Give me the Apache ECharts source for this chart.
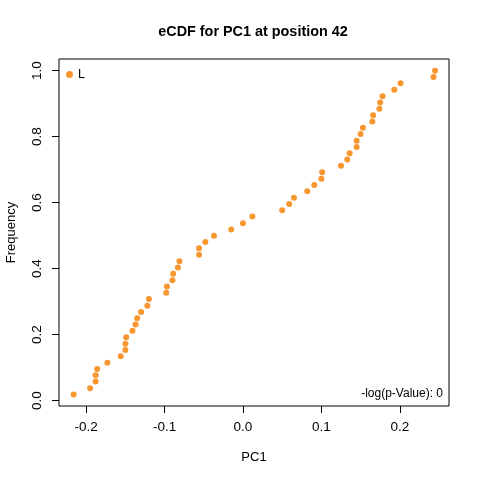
<!DOCTYPE html>
<html>
<head>
<meta charset="utf-8">
<script src="https://cdn.jsdelivr.net/npm/echarts@6/dist/echarts.min.js"></script>
<style>
  html, body { margin: 0; padding: 0; background: #fff; }
  #chart { width: 480px; height: 480px; }
</style>
</head>
<body>
<div id="chart"></div>
<script>
// PC1 values, sorted
var pc1 = [
  -0.216, -0.195, -0.188, -0.188, -0.186, -0.173, -0.156, -0.150, -0.150, -0.149,
  -0.141, -0.137, -0.135, -0.130, -0.122, -0.120, -0.098, -0.097, -0.090, -0.089,
  -0.083, -0.081, -0.056, -0.056, -0.048, -0.037, -0.015, 0.000, 0.012, 0.050,
  0.059, 0.065, 0.082, 0.091, 0.100, 0.101, 0.125, 0.133, 0.136, 0.145,
  0.145, 0.150, 0.153, 0.165, 0.166, 0.174, 0.175, 0.178, 0.193, 0.201,
  0.243, 0.245
];
var freq = [
  0.019, 0.038, 0.058, 0.077, 0.096, 0.115, 0.135, 0.154, 0.173, 0.192,
  0.212, 0.231, 0.250, 0.269, 0.288, 0.308, 0.327, 0.346, 0.365, 0.385,
  0.404, 0.423, 0.442, 0.462, 0.481, 0.500, 0.519, 0.538, 0.558, 0.577,
  0.596, 0.615, 0.635, 0.654, 0.673, 0.692, 0.712, 0.731, 0.750, 0.769,
  0.788, 0.808, 0.827, 0.846, 0.865, 0.885, 0.904, 0.923, 0.942, 0.962,
  0.981, 1.000
];
var xTicks = [-0.2, -0.1, 0.0, 0.1, 0.2];
var yTicks = [0.0, 0.2, 0.4, 0.6, 0.8, 1.0];

var chart = echarts.init(document.getElementById('chart'));
var font = 'Liberation Sans, Arial, sans-serif';

chart.setOption({
  backgroundColor: '#ffffff',
  animation: false,
  textStyle: { fontFamily: font },
  title: [{
    text: 'eCDF for PC1 at position 42',
    left: 248,
    top: 20,
    textAlign: 'center',
    textStyle: { fontSize: 14.4, fontWeight: 'bold', color: '#000', fontFamily: font }
  }, {
    text: '-log(p-Value): 0',
    right: 32,
    top: 383,
    textStyle: { fontSize: 12, fontWeight: 'normal', color: '#000', fontFamily: font }
  }],
  legend: {
    data: ['L'],
    left: 61,
    top: 63,
    icon: 'circle',
    itemWidth: 7,
    itemHeight: 7,
    textStyle: { fontSize: 12.5, color: '#000', fontFamily: font }
  },
  grid: {
    left: 59, right: 31, top: 59, bottom: 74,
    outerBoundsMode: 'none',
    containLabel: false,
    show: true,
    borderColor: '#000',
    borderWidth: 1,
    backgroundColor: 'transparent'
  },
  xAxis: {
    type: 'value',
    min: -0.2347,
    max: 0.2628,
    name: 'PC1',
    nameLocation: 'middle',
    nameGap: 45,
    nameTextStyle: { fontSize: 13, color: '#000' },
    axisLine: { show: false, onZero: false },
    splitLine: { show: false },
    axisTick: {
      show: true, inside: false, length: 7,
      customValues: xTicks,
      lineStyle: { color: '#000', width: 1 }
    },
    axisLabel: {
      customValues: xTicks,
      margin: 14,
      fontSize: 13.5,
      color: '#000',
      formatter: function (v) { return v.toFixed(1); }
    }
  },
  yAxis: {
    type: 'value',
    min: -0.016,
    max: 1.0355,
    name: 'Frequency',
    nameLocation: 'middle',
    nameGap: 41,
    nameTextStyle: { fontSize: 13, color: '#000' },
    axisLine: { show: false, onZero: false },
    splitLine: { show: false },
    axisTick: {
      show: true, inside: false, length: 7,
      customValues: yTicks,
      lineStyle: { color: '#000', width: 1 }
    },
    axisLabel: {
      customValues: yTicks,
      rotate: 90,
      margin: 15,
      fontSize: 13.5,
      color: '#000',
      formatter: function (v) { return v.toFixed(1); }
    }
  },
  series: [{
    name: 'L',
    type: 'scatter',
    symbol: 'circle',
    symbolSize: 6,
    itemStyle: { color: '#F8962F', opacity: 1 },
    data: pc1.map(function (x, i) { return [x, freq[i]]; })
  }]
});
</script>
</body>
</html>
